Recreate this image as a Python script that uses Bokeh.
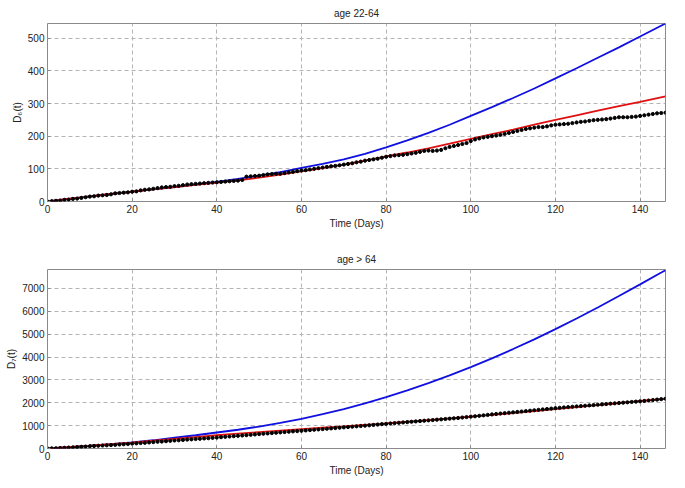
from bokeh.plotting import figure
from bokeh.layouts import column
from bokeh.models import Range1d, FixedTicker
from bokeh.embed import file_html
from bokeh.resources import INLINE

# ---------------- data ----------------
days = list(range(0, 147))

# panel 1: age 22-64
t_model1 = [0, 5, 10, 15, 20, 25, 30, 35, 40, 45, 50, 55, 60, 65, 70, 75, 80, 85, 90, 95,
            100, 105, 110, 115, 120, 125, 130, 135, 140, 146]
d6_red = [0, 8, 16, 23, 30, 37, 44, 51, 58, 65, 73, 82, 92, 102, 113, 125, 138, 150, 163, 177,
          192, 206, 220, 235, 250, 264, 278, 292, 305, 322]
d6_blue = [0, 8, 16, 23, 30, 37, 44, 52, 60, 69, 79, 90, 103, 115, 129, 146, 166, 187, 210, 235,
           262, 289, 317, 346, 377, 408, 440, 472, 505, 545]
d6_data = [0, 1, 2, 3, 5, 6, 8, 9, 11, 13, 15,
           16, 18, 19, 20, 22, 25, 26, 27, 28, 30,
           31, 34, 36, 37, 39, 41, 43, 44, 45, 47,
           48, 50, 52, 53, 54, 55, 56, 57, 58, 59,
           60, 61, 62, 63, 64, 66, 76, 77, 78, 79,
           81, 83, 84, 85, 85, 87, 89, 91, 93, 95,
           96, 98, 100, 102, 104, 106, 108, 109, 111, 113,
           115, 117, 120, 122, 125, 127, 129, 131, 134, 137,
           139, 141, 142, 143, 145, 147, 149, 152, 155, 156,
           155, 156, 158, 163, 167, 170, 173, 176, 179, 185,
           190, 193, 196, 198, 200, 202, 204, 207, 210, 213,
           216, 219, 222, 224, 226, 228, 228, 230, 233, 235,
           236, 237, 238, 240, 242, 244, 245, 247, 249, 250,
           251, 252, 254, 256, 258, 258, 258, 259, 260, 262,
           264, 266, 268, 270, 271, 272]

# panel 2: age > 64
t_model2 = [0, 5, 10, 15, 20, 25, 30, 35, 40, 45, 50, 55, 60, 65, 70, 75, 80, 85, 90, 95,
            100, 105, 110, 115, 120, 125, 130, 135, 140, 145, 146]
d7_red = [0, 55, 120, 190, 260, 340, 420, 500, 580, 650, 720, 785, 850, 910, 970, 1035, 1100,
          1170, 1240, 1315, 1390, 1470, 1550, 1635, 1720, 1810, 1900, 1990, 2080, 2155, 2170]
d7_blue = [0, 55, 120, 190, 270, 360, 470, 580, 700, 820, 960, 1120, 1300, 1500, 1720, 1970,
           2250, 2545, 2860, 3200, 3560, 3945, 4350, 4775, 5220, 5685, 6170, 6670, 7180, 7695, 7800]
d7_data = [0, 5, 10, 20, 30, 40, 50, 60, 75, 85, 100,
           110, 120, 130, 140, 150, 160, 175, 185, 200, 215,
           225, 240, 250, 265, 280, 295, 305, 320, 335, 350,
           360, 375, 390, 400, 415, 425, 440, 450, 465, 480,
           495, 510, 525, 540, 555, 570, 585, 600, 615, 630,
           645, 660, 675, 690, 705, 720, 735, 750, 762, 775,
           790, 805, 820, 835, 850, 865, 880, 895, 910, 925,
           940, 955, 970, 985, 1000, 1015, 1030, 1048, 1065, 1080,
           1095, 1110, 1125, 1140, 1155, 1170, 1185, 1200, 1215, 1230,
           1245, 1260, 1275, 1290, 1305, 1320, 1335, 1355, 1375, 1395,
           1410, 1430, 1450, 1470, 1490, 1510, 1528, 1546, 1564, 1582,
           1600, 1618, 1636, 1654, 1672, 1690, 1708, 1726, 1745, 1765,
           1780, 1795, 1810, 1825, 1840, 1855, 1870, 1885, 1900, 1915,
           1930, 1945, 1960, 1975, 1990, 2005, 2020, 2035, 2050, 2065,
           2080, 2100, 2120, 2140, 2160, 2180]

x_ticks = [0, 20, 40, 60, 80, 100, 120, 140]
y_ticks1 = [0, 100, 200, 300, 400, 500]
y_ticks2 = [0, 1000, 2000, 3000, 4000, 5000, 6000, 7000]

FONT = "'Liberation Sans Narrow', 'Arial Narrow', 'Liberation Sans', sans-serif"


def make_panel(title, ylabel, ymax, yticks, tm, red, blue, data, frame_h, top):
    p = figure(frame_width=618, frame_height=frame_h, output_backend="svg", toolbar_location=None,
               x_range=Range1d(0, 146), y_range=Range1d(0, ymax),
               min_border_left=47, min_border_right=4, min_border_top=top,
               min_border_bottom=0, title=title)
    p.title.align = "center"
    p.title.text_font = FONT
    p.title.text_font_size = "10px"
    p.title.text_font_style = "normal"
    p.title.text_color = "#222222"
    p.outline_line_color = "#8a8a8a"
    p.outline_line_width = 1
    for ax in (p.xaxis[0], p.yaxis[0]):
        ax.axis_line_color = None
        ax.major_tick_in = 3
        ax.major_tick_out = 0
        ax.major_tick_line_color = "#8a8a8a"
        ax.minor_tick_line_color = None
        ax.major_label_text_font = FONT
        ax.major_label_text_font_size = "10px"
        ax.major_label_text_color = "#222222"
        ax.axis_label_text_font = FONT
        ax.axis_label_text_font_size = "10px"
        ax.axis_label_text_font_style = "normal"
        ax.axis_label_text_color = "#222222"
        ax.major_label_standoff = 3
        ax.axis_label_standoff = 2
    p.xaxis.ticker = FixedTicker(ticks=x_ticks)
    p.yaxis.ticker = FixedTicker(ticks=yticks)
    p.xaxis.axis_label = "Time (Days)"
    p.yaxis.axis_label = ylabel
    p.grid.grid_line_color = "#b4b4b4"
    p.grid.grid_line_dash = "4 3"
    p.grid.grid_line_width = 1
    p.line(tm, blue, line_color="#1010e0", line_width=1.8)
    p.line(tm, red, line_color="#e01010", line_width=1.8)
    p.scatter(days, data, size=3.2, marker="circle", fill_color="black", line_color="black")
    return p


p1 = make_panel("age 22-64", "D\u2086(t)", 545, y_ticks1, t_model1, d6_red, d6_blue, d6_data, 178, 16)
p2 = make_panel("age > 64", "D\u2087(t)", 7830, y_ticks2, t_model2, d7_red, d7_blue, d7_data, 179, 38)

layout = column(p1, p2, spacing=0)
open("out.html", "w").write(file_html(layout, INLINE))
